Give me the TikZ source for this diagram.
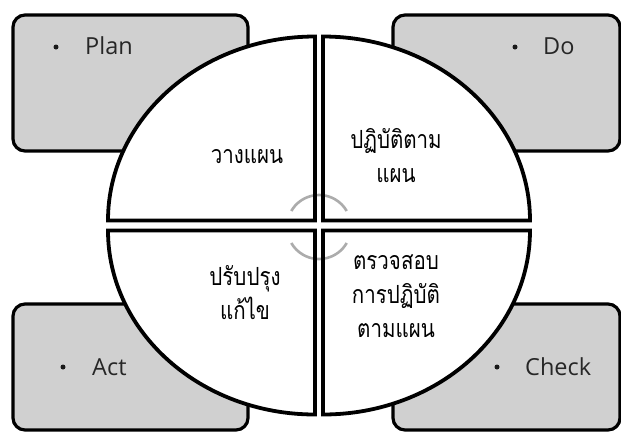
\documentclass[tikz,border=0pt]{standalone}
\usepackage{fontspec}
\setmainfont{Open Sans}
\newfontfamily\thaifont[Script=Thai,FakeStretch=0.82]{Loma}
\begin{document}
\begin{tikzpicture}[x=1pt,y=-1pt,
  box/.style={draw=black,line width=3.2pt,fill=boxgray,rounded corners=12pt},
  quad/.style={fill=white},
  quadline/.style={draw=black,line width=3.8pt,line join=miter},
  cyc/.style={draw=arcgray,line width=2.6pt},
  dot/.style={circle,fill=black!90,inner sep=0pt,minimum size=5pt},
  lab/.style={anchor=base west,font=\fontsize{23.5}{28}\selectfont,text=black!85,inner sep=0pt},
  thai/.style={align=center,font=\thaifont\fontsize{25}{34}\selectfont,inner sep=0pt}]
\definecolor{boxgray}{RGB}{208,208,208}
\definecolor{arcgray}{RGB}{172,172,172}
\useasboundingbox (0,0) rectangle (621,432);
\fill[white] (0,0) rectangle (621,432);
% corner boxes
\draw[box] (13,15) rectangle (248,151);
\draw[box] (393,15) rectangle (620,151);
\draw[box] (13,304) rectangle (248,430);
\draw[box] (393,304) rectangle (620,430);
% quadrant fills
\def\qTL{(315,220.5) -- (108,220.5) arc[start angle=180,end angle=270,x radius=207,y radius=184] -- cycle}
\def\qTR{(323,220.5) -- (323,36.5) arc[start angle=270,end angle=360,x radius=207,y radius=184] -- cycle}
\def\qBR{(323,230.5) -- (530,230.5) arc[start angle=0,end angle=90,x radius=207,y radius=184] -- cycle}
\def\qBL{(315,230.5) -- (315,414.5) arc[start angle=90,end angle=180,x radius=207,y radius=184] -- cycle}
\fill[quad] \qTL; \fill[quad] \qTR; \fill[quad] \qBR; \fill[quad] \qBL;
% cycle arcs
\draw[cyc] (291.3,211) arc[start angle=210,end angle=330,radius=32];
\draw[cyc] (346.7,243) arc[start angle=30,end angle=150,radius=32];
% quadrant outlines
\draw[quadline] \qTL; \draw[quadline] \qTR; \draw[quadline] \qBR; \draw[quadline] \qBL;
% labels
\node[dot] (pdot) at (56,47) {};
\node[lab] (plan) at (85,54) {Plan};
\node[dot] (ddot) at (515,47) {};
\node[lab] (do) at (543,54) {Do};
\node[dot] (adot) at (63,367) {};
\node[lab] (act) at (92,375) {Act};
\node[dot] (cdot) at (497,367) {};
\node[lab] (check) at (525,375) {Check};
% thai texts
\node[thai] (tplan) at (247,157) {วางแผน};
\node[thai] (tdo) at (396,156) {ปฏิบัติตาม\\แผน};
\node[thai] (tcheck) at (396,296) {ตรวจสอบ\\การปฏิบัติ\\ตามแผน};
\node[thai] (tact) at (245,293) {ปรับปรุง\\แก้ไข};
\end{tikzpicture}
\end{document}
